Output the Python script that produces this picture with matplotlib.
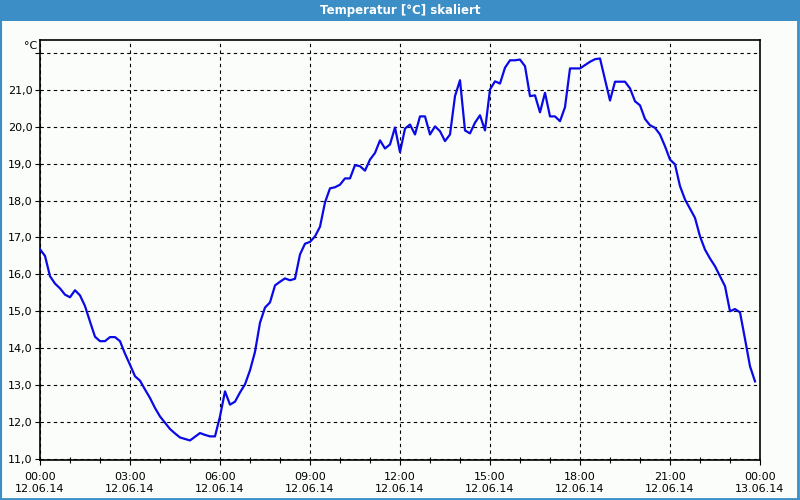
import matplotlib
matplotlib.use("Agg")
import matplotlib.pyplot as plt
import matplotlib.dates as mdates
from matplotlib.patches import Rectangle
from matplotlib.lines import Line2D
import pandas as pd

title = "Temperatur [°C] skaliert"
unit_label = "°C"
start_time = "2014-06-12 00:00"
end_time = "2014-06-13 00:00"
sample_step = "10min"

temps = [
    16.68, 16.50, 15.95, 15.75, 15.62, 15.45, 15.38, 15.57, 15.43, 15.14,
    14.72, 14.31, 14.19, 14.19, 14.30, 14.30, 14.19, 13.85, 13.55, 13.24,
    13.12, 12.88, 12.65, 12.38, 12.15, 11.98, 11.81, 11.69, 11.58, 11.54,
    11.50, 11.60, 11.70, 11.65, 11.61, 11.61, 12.15, 12.83, 12.47, 12.55,
    12.80, 13.02, 13.40, 13.90, 14.69, 15.10, 15.24, 15.70, 15.80, 15.89,
    15.84, 15.88, 16.54, 16.83, 16.88, 17.03, 17.29, 17.95, 18.33, 18.36,
    18.43, 18.60, 18.60, 18.96, 18.93, 18.81, 19.11, 19.29, 19.63, 19.41,
    19.52, 19.98, 19.31, 19.95, 20.06, 19.79, 20.28, 20.28, 19.79, 20.01,
    19.88, 19.61, 19.79, 20.83, 21.26, 19.90, 19.82, 20.11, 20.31, 19.90,
    21.01, 21.23, 21.17, 21.60, 21.80, 21.80, 21.82, 21.64, 20.83, 20.85,
    20.39, 20.92, 20.28, 20.28, 20.15, 20.53, 21.58, 21.58, 21.58, 21.67,
    21.76, 21.83, 21.85, 21.28, 20.71, 21.22, 21.22, 21.22, 21.04, 20.69,
    20.58, 20.21, 20.04, 19.97, 19.79, 19.47, 19.11, 18.98, 18.39, 18.03,
    17.78, 17.53, 17.03, 16.67, 16.43, 16.22, 15.95, 15.68, 15.00, 15.06,
    14.97, 14.25, 13.51, 13.10,
]
y_ticks = [11, 12, 13, 14, 15, 16, 17, 18, 19, 20, 21, 22]
y_tick_labels = ["11,0", "12,0", "13,0", "14,0", "15,0", "16,0", "17,0",
                 "18,0", "19,0", "20,0", "21,0", ""]

times = pd.date_range(start_time, periods=len(temps), freq=sample_step)

bg = "#fbfdfb"
bar_blue = "#3c8fc6"

fig = plt.figure(figsize=(8, 5), dpi=100, facecolor=bg)
ax = fig.add_axes([0.05, 0.08, 0.90, 0.84])
ax.set_facecolor(bg)

ax.plot(times, temps, color="#0a0ae6", linewidth=1.6, zorder=3)

ax.set_xlim(pd.Timestamp(start_time), pd.Timestamp(end_time))
ax.set_ylim(10.97, 22.35)
ax.set_yticks(y_ticks)
ax.set_yticklabels(y_tick_labels)

ax.xaxis.set_major_locator(mdates.HourLocator(byhour=range(0, 24, 3)))
ax.xaxis.set_minor_locator(mdates.HourLocator())
ax.xaxis.set_major_formatter(mdates.DateFormatter("%H:%M\n%d.%m.%y"))

ax.grid(True, which="major", color="black", linestyle=(0, (3, 3)), linewidth=0.8)
ax.tick_params(axis="y", direction="out", length=3.5, width=0.8, labelsize=8, pad=2)
ax.tick_params(axis="x", which="major", direction="out", length=3.5, width=0.8,
               labelsize=8, pad=5)
ax.tick_params(axis="x", which="minor", direction="inout", length=4, width=0.8)
fig.canvas.draw()
for lbl in ax.get_xticklabels():
    lbl.set_linespacing(1.25)

for s in ax.spines.values():
    s.set_linewidth(1.2)
    s.set_color("black")

# title bar and window frame
fig.patches.append(Rectangle((0, 1 - 21 / 500), 1, 21 / 500, transform=fig.transFigure,
                             facecolor=bar_blue, edgecolor="none", zorder=0))
fig.lines.append(Line2D([0.001, 0.001], [0, 1], transform=fig.transFigure,
                        color=bar_blue, linewidth=1.5))
fig.lines.append(Line2D([0.998, 0.998], [0, 1], transform=fig.transFigure,
                        color=bar_blue, linewidth=2))
fig.lines.append(Line2D([0, 1], [0.002, 0.002], transform=fig.transFigure,
                        color=bar_blue, linewidth=2))
fig.text(0.5, 1 - 10.5 / 500, title, color="white", fontsize=8.5, fontweight="bold",
         ha="center", va="center")
fig.text(37 / 800, 1 - 46 / 500, unit_label, fontsize=8, ha="right", va="center")

fig.savefig("out.png", dpi=100, facecolor=bg)
